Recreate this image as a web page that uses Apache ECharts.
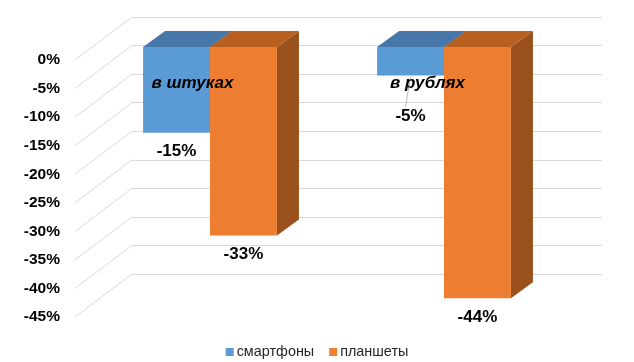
<!DOCTYPE html>
<html>
<head>
<meta charset="utf-8">
<script src="https://cdn.jsdelivr.net/npm/echarts@6/dist/echarts.min.js"></script>
<style>
html,body{margin:0;padding:0;background:#fff;}
#chart{width:634px;height:362px;}
</style>
</head>
<body>
<div id="chart"></div>
<script>
// ---- data ----
const categories = ['в штуках', 'в рублях'];
const seriesNames = ['смартфоны', 'планшеты'];
const smartphones = [-15, -5];
const tablets = [-33, -44];
const yTicks = [0, -5, -10, -15, -20, -25, -30, -35, -40, -45];

// ---- styles ----
const FONT = '"Liberation Sans", Arial, sans-serif';
const COLORS = [
  { front: '#5B9BD5', top: '#4677A8', side: '#3E6A94' },
  { front: '#ED7D31', top: '#B8601F', side: '#9B511D' }
];
const BAR_DEPTH = [22, -16];
const WALL_DEPTH = [57, -43];
const BAR_RATIO = 0.286;

const yMin = yTicks[yTicks.length - 1], yMax = yTicks[0], yInt = Math.abs(yTicks[1] - yTicks[0]);

function barRender(sIdx) {
  return function (params, api) {
    const cat = api.value(0), val = api.value(1);
    const p0 = api.coord([cat, 0]);
    const p1 = api.coord([cat, val]);
    const bw = api.size([1, 0])[0] * BAR_RATIO;
    const x0 = sIdx === 0 ? p0[0] - bw : p0[0];
    const x1 = x0 + bw;
    const y0 = p0[1], y1 = p1[1];
    const dx = BAR_DEPTH[0], dy = BAR_DEPTH[1];
    const c = COLORS[sIdx];
    const cx = (x0 + x1) / 2;
    const natural = y1 + 19;
    const minY = y0 + 69;
    const labelY = Math.max(natural, minY);
    const children = [
      { type: 'polygon', shape: { points: [[x1, y0], [x1 + dx, y0 + dy], [x1 + dx, y1 + dy], [x1, y1]] }, style: { fill: c.side } },
      { type: 'polygon', shape: { points: [[x0, y0], [x1, y0], [x1 + dx, y0 + dy], [x0 + dx, y0 + dy]] }, style: { fill: c.top } },
      { type: 'rect', shape: { x: x0, y: y0, width: bw, height: y1 - y0 }, style: { fill: c.front } },
      { type: 'text', x: cx, y: labelY, style: { text: val + '%', align: 'center', verticalAlign: 'middle', font: 'bold 17px ' + FONT, fill: '#000' } }
    ];
    if (labelY > natural) {
      children.push({ type: 'line', shape: { x1: cx, y1: y1 + 1, x2: cx - 5, y2: labelY - 9 }, style: { stroke: '#a6a6a6', lineWidth: 0.8 } });
    }
    return { type: 'group', children: children };
  };
}

const chart = echarts.init(document.getElementById('chart'), null, { renderer: 'canvas' });
chart.setOption({
  animation: false,
  backgroundColor: '#fff',
  grid: [
    { left: 132, top: 17, width: 470, height: 257 },   // back wall
    { left: 75, top: 60, width: 470, height: 257 },    // front plane
    { left: 93, top: 47, width: 468, height: 257 }     // bar front plane
  ],
  xAxis: [
    { gridIndex: 0, type: 'category', data: categories, show: false },
    { gridIndex: 1, type: 'category', data: categories, position: 'top', z: 10,
      axisLine: { show: false, onZero: false }, axisTick: { show: false },
      axisLabel: { inside: true, margin: 15, color: '#000', fontFamily: FONT, fontSize: 17, fontWeight: 'bold', fontStyle: 'italic' } },
    { gridIndex: 2, type: 'category', data: categories, show: false }
  ],
  yAxis: [
    { gridIndex: 0, type: 'value', min: yMin, max: yMax, interval: yInt,
      axisLabel: { show: false }, axisLine: { show: false }, axisTick: { show: false },
      splitLine: { show: true, lineStyle: { color: '#d9d9d9', width: 1 } } },
    { gridIndex: 1, type: 'value', min: yMin, max: yMax, interval: yInt,
      axisLine: { show: false }, axisTick: { show: false }, splitLine: { show: false },
      axisLabel: { margin: 15, formatter: '{value}%', color: '#000', fontFamily: FONT, fontSize: 15.5, fontWeight: 'bold' } },
    { gridIndex: 2, type: 'value', min: yMin, max: yMax, interval: yInt, show: false }
  ],
  legend: {
    data: seriesNames, left: 'center', top: 340, icon: 'rect', itemWidth: 8, itemHeight: 8, itemGap: 15,
    textStyle: { fontFamily: FONT, fontSize: 14.4, color: '#262626', padding: [0, 0, 0, -2] }
  },
  series: [
    { type: 'custom', name: 'walls', xAxisIndex: 1, yAxisIndex: 1, silent: true, z: 1,
      data: yTicks.map(v => [0, v]),
      renderItem: function (params, api) {
        const p = api.coord([0, api.value(1)]);
        const x = params.coordSys.x;
        return { type: 'line', shape: { x1: x, y1: p[1], x2: x + WALL_DEPTH[0], y2: p[1] + WALL_DEPTH[1] },
          style: { stroke: '#d9d9d9', lineWidth: 1 } };
      } },
    { type: 'custom', name: seriesNames[0], xAxisIndex: 2, yAxisIndex: 2, z: 3,
      itemStyle: { color: COLORS[0].front },
      data: smartphones.map((v, i) => [i, v]), renderItem: barRender(0) },
    { type: 'custom', name: seriesNames[1], xAxisIndex: 2, yAxisIndex: 2, z: 4,
      itemStyle: { color: COLORS[1].front },
      data: tablets.map((v, i) => [i, v]), renderItem: barRender(1) }
  ]
});
</script>
</body>
</html>
